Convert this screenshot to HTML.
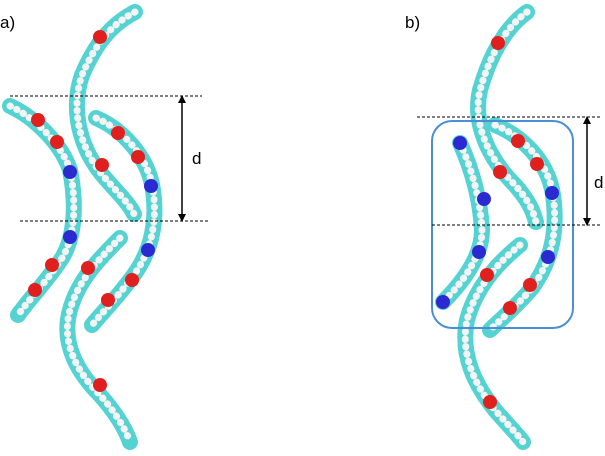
<!DOCTYPE html>
<html><head><meta charset="utf-8"><style>
html,body{margin:0;padding:0;background:#fff;}
svg{display:block;}
.c{fill:none;stroke:#55d2d2;stroke-width:16;stroke-linecap:round;stroke-linejoin:round;}
.w{fill:none;stroke:#f4f4f4;stroke-width:7;stroke-dasharray:0.5 7;stroke-linecap:round;stroke-linejoin:round;}
.r{fill:#e01f1f;}
.b{fill:#2a2ad0;}
text{font-family:"Liberation Sans",sans-serif;font-size:17px;fill:#000;}
</style></head><body>
<svg width="605" height="456" viewBox="0 0 605 456">
<defs>
<marker id="ah" markerWidth="8" markerHeight="8" refX="4" refY="4" orient="auto-start-reverse" markerUnits="userSpaceOnUse"><path d="M0,0 L8,4 L0,8 z" fill="#000"/></marker>
</defs>
<text x="0" y="28">a)</text>
<text x="405" y="28">b)</text>
<g>
<path class="c" d="M135,12 C110,25 95,45 82,75 C70,110 80,150 105,178 C120,195 130,205 134,214"/>
<path class="w" d="M135,12 C110,25 95,45 82,75 C70,110 80,150 105,178 C120,195 130,205 134,214"/>
<path class="c" d="M120,238 C100,258 78,280 70,310 C60,345 80,375 100,395 C115,412 125,428 130,442"/>
<path class="w" d="M120,238 C100,258 78,280 70,310 C60,345 80,375 100,395 C115,412 125,428 130,442"/>
<path class="c" d="M10,106 C30,115 60,140 70,170 C76,200 76,235 62,258 C48,280 30,298 18,315"/>
<path class="w" d="M10,106 C30,115 60,140 70,170 C76,200 76,235 62,258 C48,280 30,298 18,315"/>
<path class="c" d="M96,118 C120,128 148,155 153,190 C158,225 150,255 130,280 C115,300 100,315 92,325"/>
<path class="w" d="M96,118 C120,128 148,155 153,190 C158,225 150,255 130,280 C115,300 100,315 92,325"/>
<circle class="r" cx="100" cy="37" r="7"/><circle class="r" cx="38" cy="120" r="7"/><circle class="r" cx="57" cy="142" r="7"/>
<circle class="r" cx="102" cy="165" r="7"/><circle class="r" cx="118" cy="133" r="7"/><circle class="r" cx="138" cy="157" r="7"/>
<circle class="b" cx="70" cy="172" r="7"/><circle class="b" cx="151" cy="186" r="7"/><circle class="b" cx="70" cy="237" r="7"/><circle class="b" cx="148" cy="250" r="7"/>
<circle class="r" cx="88" cy="268" r="7"/><circle class="r" cx="52" cy="265" r="7"/><circle class="r" cx="35" cy="290" r="7"/>
<circle class="r" cx="132" cy="280" r="7"/><circle class="r" cx="108" cy="300" r="7"/><circle class="r" cx="100" cy="385" r="7"/>
</g>
<line x1="10" y1="96" x2="202" y2="96" stroke="#000" stroke-dasharray="3 2"/>
<line x1="20" y1="221" x2="210" y2="221" stroke="#000" stroke-dasharray="3 2"/>
<line x1="182" y1="99" x2="182" y2="218" stroke="#000" stroke-width="1.5" marker-start="url(#ah)" marker-end="url(#ah)"/>
<text x="192" y="164">d</text>
<g>
<path class="c" d="M527,12 C505,28 490,55 480,90 C472,125 490,160 515,185 C528,200 533,210 536,222"/>
<path class="w" d="M527,12 C505,28 490,55 480,90 C472,125 490,160 515,185 C528,200 533,210 536,222"/>
<path class="c" d="M520,245 C495,265 475,290 467,320 C460,355 475,385 495,410 C508,425 518,435 523,442"/>
<path class="w" d="M520,245 C495,265 475,290 467,320 C460,355 475,385 495,410 C508,425 518,435 523,442"/>
<path class="c" d="M460,143 C470,165 480,195 482,230 C482,255 465,280 443,302"/>
<path class="w" d="M460,143 C470,165 480,195 482,230 C482,255 465,280 443,302"/>
<path class="c" d="M495,125 C520,135 548,160 553,195 C558,230 552,260 532,288 C515,308 500,320 490,330"/>
<path class="w" d="M495,125 C520,135 548,160 553,195 C558,230 552,260 532,288 C515,308 500,320 490,330"/>
<circle class="r" cx="498" cy="43" r="7"/><circle class="r" cx="500" cy="172" r="7"/><circle class="r" cx="518" cy="141" r="7"/><circle class="r" cx="537" cy="164" r="7"/>
<circle class="b" cx="460" cy="143" r="7"/><circle class="b" cx="484" cy="199" r="7"/><circle class="b" cx="552" cy="193" r="7"/><circle class="b" cx="479" cy="252" r="7"/><circle class="b" cx="548" cy="257" r="7"/><circle class="b" cx="443" cy="302" r="7"/>
<circle class="r" cx="487" cy="275" r="7"/><circle class="r" cx="530" cy="285" r="7"/><circle class="r" cx="510" cy="308" r="7"/><circle class="r" cx="490" cy="402" r="7"/>
</g>
<rect x="432" y="121" width="141" height="207" rx="20" ry="20" fill="none" stroke="#4a8fd4" stroke-width="2"/>
<line x1="417" y1="117" x2="602" y2="117" stroke="#000" stroke-dasharray="3 2"/>
<line x1="432" y1="225" x2="602" y2="225" stroke="#000" stroke-dasharray="3 2"/>
<line x1="587" y1="120" x2="587" y2="222" stroke="#000" stroke-width="1.5" marker-start="url(#ah)" marker-end="url(#ah)"/>
<text x="594" y="188">d</text>
</svg>
</body></html>
